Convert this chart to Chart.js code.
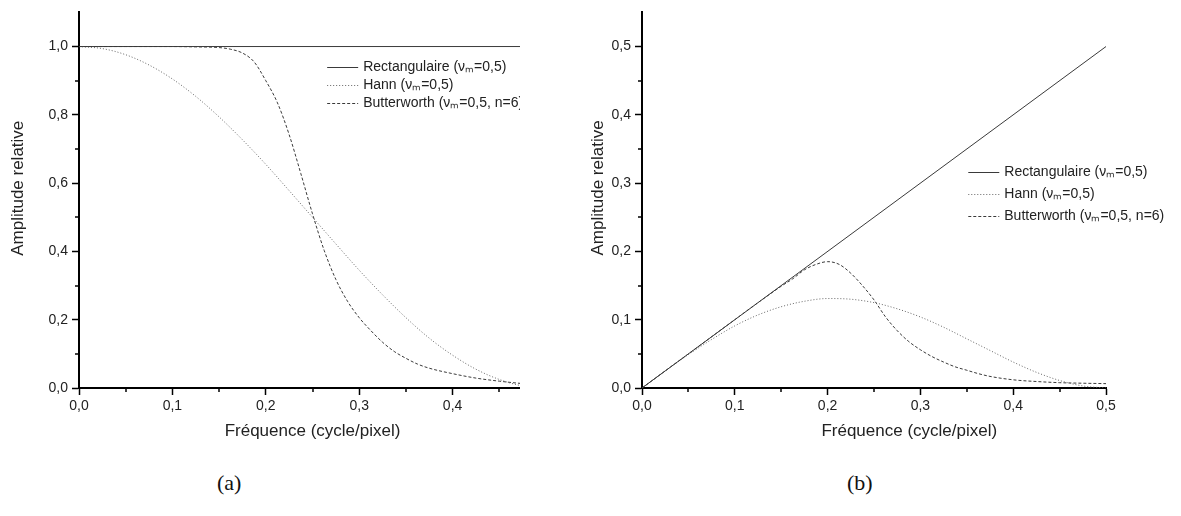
<!DOCTYPE html>
<html>
<head>
<meta charset="utf-8">
<script src="https://cdn.jsdelivr.net/npm/chart.js@4.4.1/dist/chart.umd.min.js"></script>
<style>
  body { margin: 0; background: #fff; }
  #page { position: relative; width: 1181px; height: 516px; overflow: hidden; background: #fff; }
  #wrapA { position: absolute; left: 0; top: 0; width: 520px; height: 460px; overflow: hidden; }
  #wrapB { position: absolute; left: 580px; top: 0; width: 601px; height: 460px; }
  .caption { position: absolute; top: 470px; font-family: "Liberation Serif", "DejaVu Serif", serif; font-size: 22px; color: #111; }
</style>
</head>
<body>
<div id="page">
  <div id="wrapA"><canvas id="chartA" width="560" height="460"></canvas></div>
  <div id="wrapB"><canvas id="chartB" width="601" height="460"></canvas></div>
  <div class="caption" style="left:217px">(a)</div>
  <div class="caption" style="left:847px">(b)</div>
</div>
<script>
// series labels
const labels = ["Rectangulaire (\u03bd\u2098=0,5)", "Hann (\u03bd\u2098=0,5)", "Butterworth (\u03bd\u2098=0,5, n=6)"];

// rectangular window: two end points
const rectFreq = [0, 0.5];
const rectA = [1.0, 1.0];
const rectB = [0.0, 0.5];

// Hann window, read every 0.025
const freq = [0, 0.025, 0.05, 0.075, 0.1, 0.125, 0.15, 0.175, 0.2, 0.225, 0.25,
              0.275, 0.3, 0.325, 0.35, 0.375, 0.4, 0.425, 0.45, 0.475, 0.5];
const hannA = [1.0, 0.994, 0.976, 0.946, 0.905, 0.854, 0.794, 0.727, 0.655, 0.578, 0.5,
               0.422, 0.345, 0.273, 0.206, 0.146, 0.096, 0.055, 0.025, 0.006, 0.0];
const hannB = [0, 0.025, 0.049, 0.071, 0.091, 0.107, 0.119, 0.127, 0.131, 0.130, 0.125,
               0.116, 0.104, 0.089, 0.072, 0.055, 0.038, 0.023, 0.011, 0.003, 0.0];

// Butterworth, denser around the cut-off
const butterFreq = [0, 0.05, 0.1, 0.125, 0.15, 0.1625, 0.175, 0.1875, 0.2, 0.2125, 0.225, 0.2375, 0.25,
                    0.2625, 0.275, 0.2875, 0.3, 0.3125, 0.325, 0.3375, 0.35, 0.3625, 0.375, 0.4, 0.425, 0.45, 0.475, 0.5];
const butterA = [1.0, 1.0, 1.0, 0.999, 0.997, 0.992, 0.981, 0.955, 0.90, 0.835, 0.742, 0.628, 0.51,
                 0.403, 0.318, 0.254, 0.206, 0.168, 0.134, 0.107, 0.087, 0.070, 0.058, 0.042, 0.029, 0.02, 0.013, 0.009];
const butterB = [0, 0.05, 0.1, 0.125, 0.149, 0.160, 0.173, 0.181, 0.185, 0.181, 0.168, 0.150, 0.129,
                 0.104, 0.084, 0.068, 0.056, 0.046, 0.038, 0.031, 0.026, 0.021, 0.017, 0.012, 0.0095, 0.0078, 0.007, 0.0064];

const xTitle = "Fr\u00e9quence (cycle/pixel)";
const yTitle = "Amplitude relative";

Chart.defaults.font.family = '"Liberation Sans", Arial, sans-serif';
Chart.defaults.font.size = 14;
Chart.defaults.color = "#222";

const fmt = (v) => v.toFixed(1).replace(".", ",");
const pts = (xs, ys) => xs.map((x, i) => ({ x: x, y: ys[i] }));

// small minor tick marks between the labelled ones
const minorTicks = {
  id: "minorTicks",
  afterDraw(chart, args, opts) {
    const { ctx, chartArea } = chart;
    ctx.save();
    ctx.strokeStyle = "#000";
    ctx.lineWidth = 1.5;
    ["x", "y"].forEach((id) => {
      const scale = chart.scales[id];
      const step = opts[id];
      for (let k = 1; step * k < scale.max - 1e-9; k += 2) {
        const p = Math.round(scale.getPixelForValue(step * k));
        ctx.beginPath();
        if (id === "x") {
          ctx.moveTo(p, chartArea.bottom);
          ctx.lineTo(p, chartArea.bottom + opts.len);
        } else {
          ctx.moveTo(chartArea.left, p);
          ctx.lineTo(chartArea.left - opts.len, p);
        }
        ctx.stroke();
      }
    });
    ctx.restore();
  },
};

// axis titles, placed along the axis at a given value (the original is not centred)
const axisTitles = {
  id: "axisTitles",
  afterDraw(chart, args, opts) {
    const { ctx, scales } = chart;
    ctx.save();
    ctx.font = '17px "Liberation Sans", Arial, sans-serif';
    ctx.fillStyle = "#222";
    ctx.textAlign = "center";
    ctx.textBaseline = "middle";
    ctx.fillText(opts.x.text, scales.x.getPixelForValue(opts.x.at), opts.x.pos);
    ctx.translate(opts.y.pos, scales.y.getPixelForValue(opts.y.at));
    ctx.rotate(-Math.PI / 2);
    ctx.fillText(opts.y.text, 0, 0);
    ctx.restore();
  },
};

// legend drawn inside the plot, anchored in data coordinates
const insideLegend = {
  id: "insideLegend",
  afterDatasetsDraw(chart, args, opts) {
    const { ctx, scales } = chart;
    const x0 = scales.x.getPixelForValue(opts.x);
    let y = Math.round(scales.y.getPixelForValue(opts.y));
    ctx.save();
    ctx.font = '14px "Liberation Sans", Arial, sans-serif';
    ctx.textBaseline = "middle";
    chart.data.datasets.forEach((ds) => {
      ctx.strokeStyle = ds.borderColor;
      ctx.lineWidth = 1;
      ctx.setLineDash(ds.borderDash || []);
      ctx.beginPath();
      ctx.moveTo(x0, y + 0.5);
      ctx.lineTo(x0 + 31, y + 0.5);
      ctx.stroke();
      ctx.setLineDash([]);
      ctx.fillStyle = "#222";
      ctx.fillText(ds.label, x0 + 36, y);
      y += opts.gap;
    });
    ctx.restore();
  },
};

function makeChart(id, series, opt) {
  const ctx = document.getElementById(id).getContext("2d");
  return new Chart(ctx, {
    type: "line",
    data: {
      datasets: [
        { label: labels[0], data: pts(rectFreq, series[0]), borderColor: "#3a3a3a", borderWidth: 1 },
        { label: labels[1], data: pts(freq, series[1]), borderColor: "#666", borderWidth: 1, borderDash: [1, 2] },
        { label: labels[2], data: pts(butterFreq, series[2]), borderColor: "#3a3a3a", borderWidth: 1, borderDash: [3, 2] },
      ],
    },
    options: {
      responsive: false,
      animation: false,
      devicePixelRatio: 1,
      layout: { padding: { top: 7, right: opt.padRight, left: 0, bottom: 0 } },
      elements: { point: { radius: 0 }, line: { cubicInterpolationMode: "monotone", fill: false } },
      plugins: {
        legend: { display: false },
        tooltip: { enabled: false },
        minorTicks: { x: 0.05, y: opt.yStep / 2, len: 4 },
        insideLegend: opt.legend,
        axisTitles: {
          x: { text: xTitle, at: opt.xTitleAt, pos: 431 },
          y: { text: yTitle, at: opt.yTitleAt, pos: 18 },
        },
      },
      scales: {
        x: {
          type: "linear",
          min: 0,
          max: 0.5,
          afterFit: (s) => { s.height = 72; },
          border: { display: true, color: "#000", width: 2 },
          grid: { drawOnChartArea: false, tickLength: 7, tickColor: "#000", tickWidth: 1.5 },
          ticks: { stepSize: 0.1, padding: 3, maxRotation: 0, callback: fmt },
        },
        y: {
          min: 0,
          max: opt.yMax,
          afterFit: (s) => { s.width = opt.yWidth; },
          border: { display: true, color: "#000", width: 2 },
          grid: { drawOnChartArea: false, tickLength: 7, tickColor: "#000", tickWidth: 1.5 },
          ticks: { stepSize: opt.yStep, includeBounds: false, padding: 4, callback: fmt },
        },
      },
    },
    plugins: [minorTicks, insideLegend, axisTitles],
  });
}

makeChart("chartA", [rectA, hannA, butterA], {
  padRight: 14, yMax: 1.1, yStep: 0.2, yWidth: 79, xTitleAt: 0.25, yTitleAt: 0.585,
  legend: { x: 0.2657, y: 0.94, gap: 18 },
});
makeChart("chartB", [rectB, hannB, butterB], {
  padRight: 75, yMax: 0.55, yStep: 0.1, yWidth: 62, xTitleAt: 0.288, yTitleAt: 0.293,
  legend: { x: 0.3516, y: 0.317, gap: 22 },
});
</script>
</body>
</html>
